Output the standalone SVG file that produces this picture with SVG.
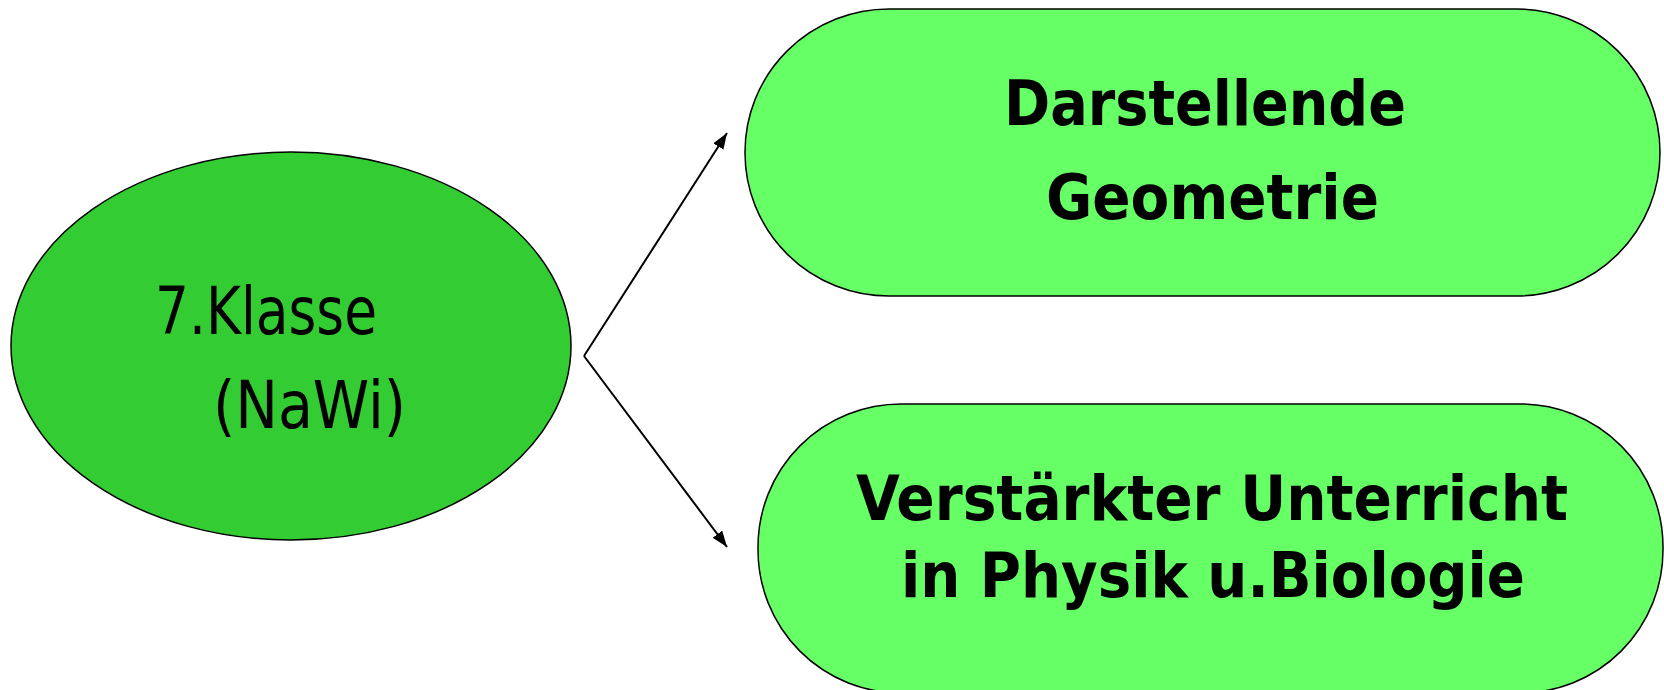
<svg xmlns="http://www.w3.org/2000/svg" width="1664" height="690" viewBox="0 0 1664 690">
<style>
.node{stroke:#000;stroke-width:1.5}
.dark{fill:#33CC33}
.light{fill:#66FF66}
.t{font-family:"DejaVu Sans Condensed","DejaVu Sans",Verdana,sans-serif;fill:#000}
.b{font-weight:bold}
.conn{fill:none;stroke:#000;stroke-width:2}
</style>
<defs>
<marker id="ah" viewBox="0 0 10 10" refX="10" refY="5" markerWidth="16" markerHeight="12" markerUnits="userSpaceOnUse" orient="auto" preserveAspectRatio="none">
<path d="M0,0 L10,5 L0,10 z" fill="#000"/>
</marker>
</defs>
<rect width="1664" height="690" fill="#fff"/>
<g id="n1">
<ellipse class="node dark" cx="291" cy="346" rx="280" ry="194"/>
<text class="t" x="155" y="334" font-size="65" textLength="222" lengthAdjust="spacingAndGlyphs">7.Klasse</text>
<text class="t" x="213" y="428" font-size="65" textLength="193" lengthAdjust="spacingAndGlyphs">(NaWi)</text>
</g>
<g id="n2">
<rect class="node light" x="745" y="9" width="915" height="287" rx="144" ry="143"/>
<text class="t b" x="1004" y="125" font-size="62" textLength="402" lengthAdjust="spacingAndGlyphs">Darstellende</text>
<text class="t b" x="1046" y="219" font-size="62" textLength="333" lengthAdjust="spacingAndGlyphs">Geometrie</text>
</g>
<g id="n3">
<rect class="node light" x="758" y="404" width="905" height="289" rx="143" ry="143"/>
<text class="t b" x="856" y="520" font-size="62" textLength="712" lengthAdjust="spacingAndGlyphs">Verstärkter Unterricht</text>
<text class="t b" x="901" y="597" font-size="62" textLength="624" lengthAdjust="spacingAndGlyphs">in Physik u.Biologie</text>
</g>
<g id="connectors">
<path class="conn" d="M584,356 L727,133" marker-end="url(#ah)"/>
<path class="conn" d="M584,356 L727,547" marker-end="url(#ah)"/>
</g>
</svg>
